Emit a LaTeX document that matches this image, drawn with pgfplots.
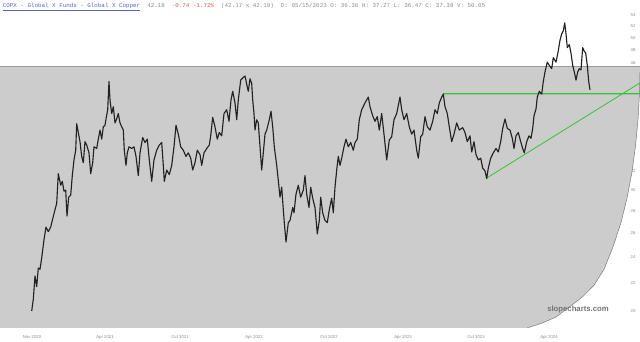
\documentclass[border=0pt]{standalone}
\usepackage{fontspec}
\setmainfont{Liberation Sans}
\setmonofont{Liberation Mono}
\usepackage{pgfplots}
\pgfplotsset{compat=1.18}
\usepackage{pgfplotstable}
\definecolor{bggray}{HTML}{CCCCCC}
\definecolor{linegray}{HTML}{9A9A9A}
\definecolor{lblgray}{HTML}{8A8A8A}
\definecolor{ttlblue}{HTML}{5566CC}
\definecolor{chgred}{HTML}{E05555}
\definecolor{trendgreen}{HTML}{33C433}
\definecolor{bar}{HTML}{222222}

\pgfplotstableread{
x v
31.7 20.0
33.3 20.8
35 22.5
36.7 21.7
38.3 23.1
40 23.0
41.7 23.9
44 25.4
46 26.5
48.3 26.1
50.7 26.5
52.3 27.1
55 28.1
56.7 28.7
58.3 31.7
60.7 30.5
62.3 30.9
64 29.9
65.7 30.0
67 27.5
68.7 29.3
70.7 29.5
72.3 31.5
74 33.2
75.7 34.3
76.7 37.5
78.3 36.4
80 35.3
81.7 33.6
83.3 32.9
85 35.3
86.7 34.9
89 34.0
90.7 31.7
92.7 32.9
94 34.7
96.7 34.5
98.3 35.6
100 36.7
101.7 35.6
103.3 37.1
105 37.3
106 38.1
107.7 39.3
109 43.2
110 40.6
111.7 38.8
113.3 39.7
115 37.6
116.7 38.1
118.3 38.8
120 37.6
121.7 37.1
123.3 36.7
124.3 34.3
126 32.6
127.3 34.0
129 34.7
131.7 34.5
134 34.7
136 33.6
138.3 31.5
140 34.0
142.7 35.8
145 35.2
147.3 35.6
149.3 33.2
151.7 30.9
154 33.2
156.7 34.3
159.3 34.9
161.7 35.2
163.3 32.6
164.3 30.9
166.7 32.1
169.3 31.6
171.7 32.6
174 34.7
176 37.3
178.3 36.2
180.7 34.7
183.3 34.3
186 33.6
188.3 34.0
190.7 33.4
192.7 32.1
195 32.9
197.3 34.3
200 33.8
201.7 32.6
204 34.0
206.7 34.5
209.3 34.9
210.7 36.0
212.7 38.3
215 37.1
217.3 35.6
219.3 36.4
221.7 36.0
224 38.8
226.7 39.3
229 37.8
231 40.6
232.7 41.8
235 40.2
236.7 38.0
238.3 40.6
240.7 43.4
243.3 43.8
245 44.0
247.3 42.4
248.3 41.8
250 43.6
251.7 42.9
252.7 40.6
254 38.8
255 36.7
256.7 38.0
258.3 37.6
260 34.7
261.7 32.1
263.3 34.0
265 36.2
266.7 36.7
269.3 38.0
271 39.1
272.7 37.1
274.3 34.7
276.7 32.6
278.3 31.0
280 29.3
281.7 30.3
283.3 28.1
284.3 26.9
286 25.2
288.3 26.9
290 27.1
292.7 28.3
294 27.8
296 29.6
298.3 30.5
300.7 29.3
303.3 30.0
305 31.5
306.7 29.6
309 28.3
310.7 30.3
312.7 29.2
315 28.3
317.3 25.9
319.3 27.1
320.7 29.3
322.7 27.8
325 27.1
327.3 26.9
329.3 28.1
331.7 29.2
333.3 27.8
335 30.3
336.7 32.1
338.3 33.6
340 32.6
341.7 33.4
344 34.7
346 35.6
348.3 34.7
350.7 35.2
353.3 34.3
355 35.2
357.3 35.6
359.3 38.0
361.7 39.3
365 40.2
368.3 41.0
370 39.7
372.7 38.5
375 37.8
377.3 38.4
379.3 36.7
381.7 38.8
384 36.2
386.7 33.2
389.3 35.5
391.7 35.9
394 38.0
396.7 38.8
400 41.0
401.7 39.3
404 38.0
406.7 38.8
409.3 37.1
411.7 36.2
414 36.7
416.7 34.3
418.3 33.4
420.7 35.9
422.7 36.2
425 38.4
427.3 37.1
430 36.7
432.7 37.8
435 39.3
437.3 38.8
439.3 40.2
441.7 41.0
443.3 41.4
445 39.7
447.3 38.8
449.3 37.1
451.7 35.3
454 36.2
456.7 37.6
459.3 36.7
462.7 37.0
465 36.4
467.3 35.3
470 36.0
471.7 34.1
474 35.3
476 33.8
478.3 33.2
480.7 33.4
482.7 32.3
485 32.0
486.7 31.2
488.3 32.3
490.7 33.4
493.3 34.0
496 34.5
498.3 34.1
500.7 35.3
502.7 36.9
505 38.1
507.3 36.9
510 36.7
512.3 35.7
514 34.5
516 36.0
518.3 36.4
520.7 35.3
522.7 34.5
524.3 34.0
526.7 35.3
529 36.0
531 35.7
532.7 36.9
534 38.5
536 39.4
537.3 41.0
539.3 41.8
541.7 41.4
543.3 43.2
545 44.6
547.3 46.1
549.3 45.6
551.7 45.1
553.3 46.8
556 46.1
558.3 47.9
560 49.6
561.7 50.7
563.3 51.2
564.7 52.6
566 50.7
567.3 48.4
569.3 48.9
571 47.5
572.7 45.6
574.3 44.6
576 43.4
577.7 44.6
579.3 45.1
581 44.9
582.7 48.4
584 47.9
585.7 47.5
587.3 45.6
588.7 43.2
590 42.0
}\copx

\begin{document}
\begin{tikzpicture}
\path[use as bounding box] (0,0) rectangle (480pt,256.5pt);
\begin{axis}[
  at={(0pt,10.5pt)}, anchor=south west,
  scale only axis, width=480pt, height=246pt,
  xmin=0, xmax=640,
  ymode=log, ymin=18.89, ymax=56.79,
  axis line style={draw=none},
  major tick length=0pt,
  xtick={32,105,180,254,329,403,476,549},
  xticklabels={Nov 2020,Apr 2021,Oct 2021,Apr 2022,Oct 2022,Apr 2023,Oct 2023,Apr 2024},
  xticklabel style={font=\fontsize{3.2}{4}\selectfont, text=lblgray, yshift=-2.2pt},
  ytick={20,22,24,26,28,30,32,34,36,38,40,42,44,46,48,50,52,54},
  yticklabels={20,22,24,26,28,30,32,34,36,38,40,42,44,46,48,50,52,54},
  yticklabel pos=right,
  yticklabel style={font=\fontsize{3.2}{4}\selectfont, text=lblgray, anchor=center, xshift=-5.25pt},
  minor tick num=0,
  clip=true,
]
% gray background region with curved right edge
\addplot[fill=bggray, draw=none] coordinates {
 (0,45.5) (641,45.5) (640,44.6) (639.5,41.5) (638,38.0) (635.5,34.8) (632,31.9)
 (627,29.2) (621,26.9) (613,24.8) (604,23.0) (594,21.8) (583,21.0) (570,20.3)
 (556,19.6) (542,19.2) (527,18.89) (0,18.89)
} -- cycle;
% curved edge line
\addplot[draw=black!55, line width=0.35pt] coordinates {
 (640,44.6) (639.5,41.5) (638,38.0) (635.5,34.8) (632,31.9)
 (627,29.2) (621,26.9) (613,24.8) (604,23.0) (594,21.8) (583,21.0) (570,20.3)
 (556,19.6) (542,19.2) (527,18.89)
};
% top boundary
\addplot[draw=linegray, line width=0.6pt] coordinates {(0,45.5) (640,45.5)};
% trend lines
\addplot[color=trendgreen, solid, line width=0.9pt] coordinates {(443,41.45) (540,41.452) (640,41.455)};
\addplot[color=trendgreen, solid, line width=0.6pt] coordinates {(486,31.2) (640,43.0)};
% price
\addplot[color=bar, line width=0.85pt, line join=round] table[x=x,y=v]{\copx};
\draw[linegray, line width=0.6pt] (rel axis cs:0,0) -- (rel axis cs:1,0);
\end{axis}
\node[anchor=north west, inner sep=0pt, font=\ttfamily\fontsize{4.4}{5}\selectfont] at (2pt,254.5pt)
 {\textcolor{ttlblue}{\underline{COPX - Global X Funds - Global X Copper}}\ \ \textcolor{lblgray}{42.18}\ \ \textcolor{chgred}{-0.74 -1.72\%}\ \ \textcolor{lblgray}{(42.17 x 42.19)\ \ D: 05/15/2023 O: 36.36 H: 37.27 L: 36.47 C: 37.38 V: 50.05}};
\node[font=\bfseries\fontsize{5.8}{7}\selectfont, text=black!55] at (433.5pt,24pt) {slopecharts.com};
\end{tikzpicture}
\end{document}
